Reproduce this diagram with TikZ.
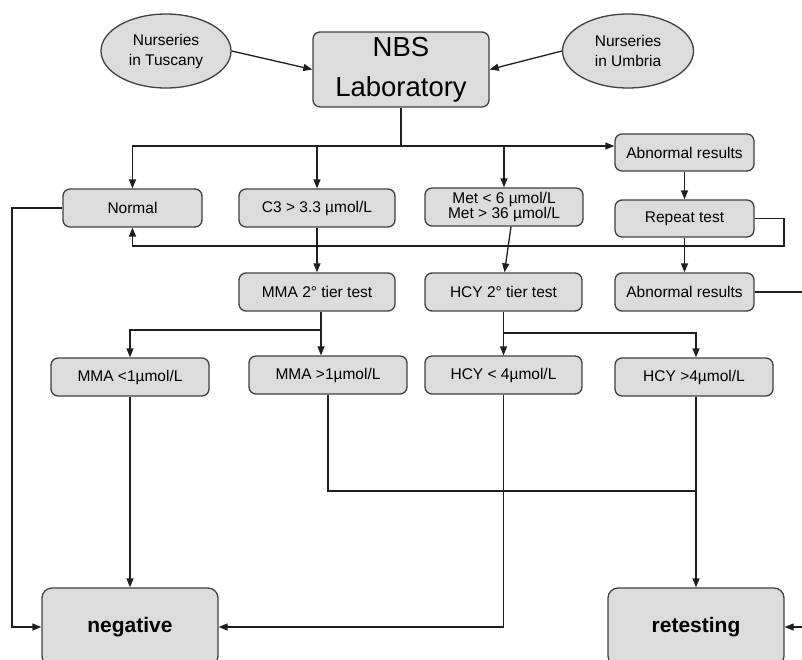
\documentclass[tikz,border=0pt]{standalone}
\usepackage{fontspec}
\setmainfont{Liberation Sans}
\usetikzlibrary{arrows.meta,shapes.geometric}
\definecolor{boxfill}{HTML}{DCDCDC}
\definecolor{boxline}{HTML}{404040}
\definecolor{wirecol}{HTML}{1E1E1E}
\tikzset{
  box/.style={draw=boxline, line width=1.3pt, fill=boxfill, rounded corners=7pt,
    inner sep=0pt, font=\fontsize{15.5}{15}\selectfont, align=center},
  oval/.style={ellipse, draw=boxline, line width=1.3pt, fill=boxfill, inner sep=0pt,
    font=\fontsize{15.5}{20}\selectfont, align=center},
  bigbox/.style={box, font=\fontsize{27.5}{40}\selectfont},
  endbox/.style={box, rounded corners=10pt, font=\bfseries\fontsize{21}{24}\selectfont},
  wire/.style={draw=wirecol, line width=1.3pt},
  arr/.style={wire, -{Triangle[length=9pt,width=7pt]}}
}
\begin{document}
\begin{tikzpicture}[x=1pt,y=-1pt]
\useasboundingbox (0,0) rectangle (802,659);
\clip (0,0) rectangle (802,659);
% nodes
\node[oval, minimum width=130pt, minimum height=74pt] (tus) at (166,51) {Nurseries\\in Tuscany};
\node[oval, minimum width=131pt, minimum height=74pt] (umb) at (628,51) {Nurseries\\in Umbria};
\node[bigbox, minimum width=176pt, minimum height=75pt] (nbs) at (401,69.5) {NBS\\Laboratory};
\node[box, minimum width=139pt, minimum height=37pt] (abn1) at (684.5,152.5) {Abnormal results};
\node[box, minimum width=139pt, minimum height=38pt] (normal) at (132.5,208) {Normal};
\node[box, minimum width=156pt, minimum height=38pt] (c3) at (317,208) {C3 > 3.3 µmol/L};
\node[box, minimum width=158pt, minimum height=38pt] (met) at (504,207) {Met < 6 µmol/L\\Met > 36 µmol/L};
\node[box, minimum width=139pt, minimum height=37pt] (rep) at (684.5,218.5) {Repeat test};
\node[box, minimum width=156pt, minimum height=38pt] (mmat) at (317,292) {MMA 2° tier test};
\node[box, minimum width=157pt, minimum height=38pt] (hcyt) at (503.5,292) {HCY 2° tier test};
\node[box, minimum width=139pt, minimum height=38pt] (abn2) at (684.5,292) {Abnormal results};
\node[box, minimum width=158pt, minimum height=38pt] (mma1) at (130,377) {MMA <1µmol/L};
\node[box, minimum width=158pt, minimum height=38pt] (mma2) at (328,375) {MMA >1µmol/L};
\node[box, minimum width=157pt, minimum height=38pt] (hcy1) at (503.5,375) {HCY < 4µmol/L};
\node[box, minimum width=158pt, minimum height=38pt] (hcy2) at (694,377) {HCY >4µmol/L};
\node[endbox, minimum width=176pt, minimum height=78pt] (neg) at (130,627) {negative};
\node[endbox, minimum width=176pt, minimum height=78pt] (ret) at (696,627) {retesting};
% helper coordinates
\coordinate (bus) at (401,146);
\coordinate (loopR) at (784,246);
\coordinate (leftX) at (12,208);
\coordinate (bMMA) at (321,330);
\coordinate (bHCY) at (503.5,333);
\coordinate (joinY) at (328,491);
\coordinate (negY) at (503.5,627);
\coordinate (edgeA) at (810,292);
\coordinate (edgeB) at (810,627);
% connectors
\draw[arr] (tus.east) -- (nbs.west);
\draw[arr] (umb.west) -- (nbs.east);
\draw[wire] (nbs.south) -- (bus);
\draw[arr] (bus) -| (normal.north);
\draw[arr] (bus) -| (c3.north);
\draw[arr] (bus) -| (met.north);
\draw[arr] (bus) -- (abn1.west |- bus);
\draw[arr] (abn1.south) -- (rep.north);
\draw[arr] (rep.south) -- (abn2.north);
\draw[arr] (rep.east) -| (loopR) -| (normal.south);
\draw[arr] (normal.west) -- (leftX) |- (neg.west);
\draw[arr] (c3.south) -- (mmat.north);
\draw[arr] ([xshift=7pt]met.south) -- ([xshift=1pt]hcyt.north);
\draw[wire] (mmat.south -| bMMA) -- (bMMA);
\draw[arr] (bMMA) -| (mma1.north);
\draw[arr] (bMMA) -- (bMMA |- mma2.north);
\draw[wire] (hcyt.south) -- (bHCY);
\draw[arr] (bHCY) -- (hcy1.north);
\draw[arr] (bHCY) -| (ret.north |- hcy2.north);
\draw[arr] (mma1.south) -- (neg.north);
\draw[wire] (mma2.south) -- (joinY) -| (ret.north |- hcy2.south);
\draw[arr] (ret.north |- hcy2.south) -- (ret.north);
\draw[arr] (hcy1.south) -- (negY) -- (neg.east);
\draw[wire] (abn2.east) -- (edgeA);
\draw[arr] (edgeB) -- (ret.east);
\end{tikzpicture}
\end{document}
